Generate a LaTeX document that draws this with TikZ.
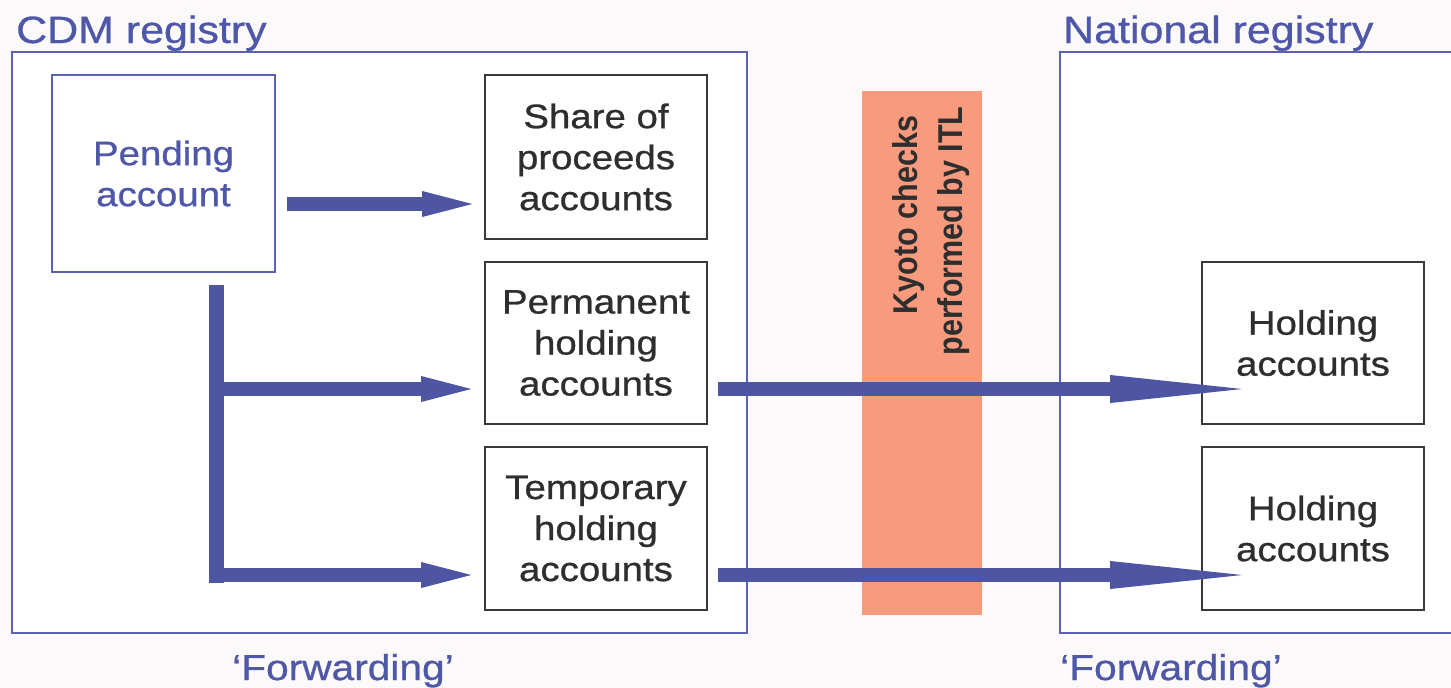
\documentclass[tikz,border=0pt]{standalone}
\usepackage{fontspec}
\usepackage{graphicx}
\setmainfont[FakeStretch=1.13,FakeBold=0.8]{Liberation Sans}
\newfontfamily\rotfont{Liberation Sans Bold}
\usetikzlibrary{arrows.meta,calc}
\definecolor{bgpink}{HTML}{FCF9FA}
\definecolor{regblue}{HTML}{5B62B6}
\definecolor{arrblue}{HTML}{4E56A4}
\definecolor{txtblue}{HTML}{4F58A8}
\definecolor{boxgray}{HTML}{3A3A3A}
\definecolor{txtgray}{HTML}{2E2E2E}
\definecolor{itlorange}{HTML}{F79A7D}
\tikzset{
  regbox/.style={draw=regblue, line width=1.6pt, fill=white},
  bluebox/.style={draw=regblue, line width=1.6pt, fill=white, inner sep=0pt,
    text=txtblue, align=center, font=\fontsize{34}{41}\selectfont},
  graybox/.style={draw=boxgray, line width=1.6pt, fill=white, inner sep=0pt,
    minimum width=222pt, text=txtgray, align=center, font=\fontsize{34}{41}\selectfont},
  header/.style={text=txtblue, inner sep=0pt, anchor=base west, font=\fontsize{38}{44}\selectfont},
  fwd/.style={text=txtblue, inner sep=0pt, anchor=base west, font=\fontsize{36}{42}\selectfont},
  itltext/.style={text=txtgray, inner sep=0pt, rotate=90, anchor=base,
    font=\rotfont\fontsize{30.5}{36}\selectfont},
  shortarr/.style={draw=arrblue, line width=14pt, -{Triangle[length=50pt,width=26pt,line width=0pt]}},
  longarr/.style={draw=arrblue, line width=14pt, -{Triangle[length=132pt,width=28pt,line width=0pt]}},
}
\begin{document}
\begin{tikzpicture}[x=1pt,y=-1pt]
\useasboundingbox (0,0) rectangle (1451,688);
\clip (0,0) rectangle (1451,688);
\fill[bgpink] (0,0) rectangle (1451,688);
% registries
\draw[regbox] (12,52) rectangle (747,633);
\draw[regbox] (1060,52) rectangle (1480,633);
\node[header] (cdm) at (16,43) {CDM registry};
\node[header] (nat) at (1063,43) {National registry};
\node[fwd] (fwd1) at (232,680) {‘Forwarding’};
\node[fwd] (fwd2) at (1060,680) {‘Forwarding’};
% ITL bar
\fill[itlorange] (862,91) rectangle (982,615);
\node[itltext] (itl1) at (917,215) {\scalebox{1}[1.13]{Kyoto checks}};
\node[itltext] (itl2) at (962,231) {\scalebox{1}[1.13]{performed by ITL}};
% boxes
\node[bluebox, minimum width=223pt, minimum height=197pt] (pend) at (163.5,173.5) {Pending\\account};
\node[graybox, minimum height=164pt] (share) at (596,157) {Share of\\proceeds\\accounts};
\node[graybox, minimum height=162pt] (perm) at (596,343) {Permanent\\holding\\accounts};
\node[graybox, minimum height=163pt] (tmp) at (596,528.5) {Temporary\\holding\\accounts};
\node[graybox, minimum height=162pt] (hold1) at (1313,343) {Holding\\accounts};
\node[graybox, minimum height=163pt] (hold2) at (1313,528.5) {Holding\\accounts};
% arrows
\draw[shortarr] ($(pend.east)+(11,30.5)$) coordinate (s1) -- ([xshift=-12pt]share.west |- s1);
\draw[draw=arrblue, line width=15pt] ($(pend.south)+(52.5,12)$) coordinate (v0) -- ($(v0 |- tmp.west)+(0,54)$) coordinate (v1);
\draw[shortarr] ($(v0 |- perm.west)+(0,46)$) coordinate (b1) -- ([xshift=-13pt]perm.west |- b1);
\draw[shortarr] ($(v0 |- tmp.west)+(-7,46.5)$) coordinate (b2) -- ([xshift=-13pt]tmp.west |- b2);
\draw[longarr] ($(perm.east)+(10,46)$) coordinate (l1) -- ([xshift=41pt]hold1.west |- l1);
\draw[longarr] ($(tmp.east)+(10,46.5)$) coordinate (l2) -- ([xshift=41pt]hold2.west |- l2);
\end{tikzpicture}
\end{document}
